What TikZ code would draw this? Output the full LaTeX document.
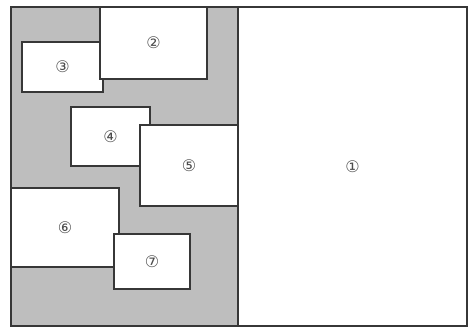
\documentclass[tikz,border=0pt]{standalone}
\usepackage{fontspec}
\newfontfamily\circfont{DejaVu Sans}
\definecolor{yardgray}{RGB}{190,190,190}
\definecolor{wallgray}{RGB}{55,55,55}

\begin{document}
\begin{tikzpicture}[x=1pt, y=-1pt]

\tikzset{
  yard/.style={rectangle, draw=wallgray, line width=1.3pt, fill=yardgray,
    inner sep=0pt},
  room/.style={rectangle, draw=wallgray, line width=1.3pt, fill=white,
    inner sep=0pt, text=black!70, font=\circfont\fontsize{16}{16}\selectfont}
}

\useasboundingbox (0,0) rectangle (470,328);

% left part with the small rooms
\node[yard, minimum width=227pt, minimum height=319pt] (site) at (124.5,166.5) {};

% main room
\node[room, minimum width=229pt, minimum height=319pt] (r1) at (352.5,166.5) {①};

% small rooms (drawn back to front)
\node[room, minimum width=81pt,  minimum height=50pt] (r3) at (62.5,67)    {③};
\node[room, minimum width=107pt, minimum height=72pt] (r2) at (153.5,43)   {②};
\node[room, minimum width=79pt,  minimum height=59pt] (r4) at (110.5,136.5){④};
\node[room, minimum width=98pt,  minimum height=81pt] (r5) at (189,165.5)  {⑤};
\node[room, minimum width=108pt, minimum height=79pt] (r6) at (65,227.5)   {⑥};
\node[room, minimum width=76pt,  minimum height=55pt] (r7) at (152,261.5)  {⑦};

\end{tikzpicture}
\end{document}
